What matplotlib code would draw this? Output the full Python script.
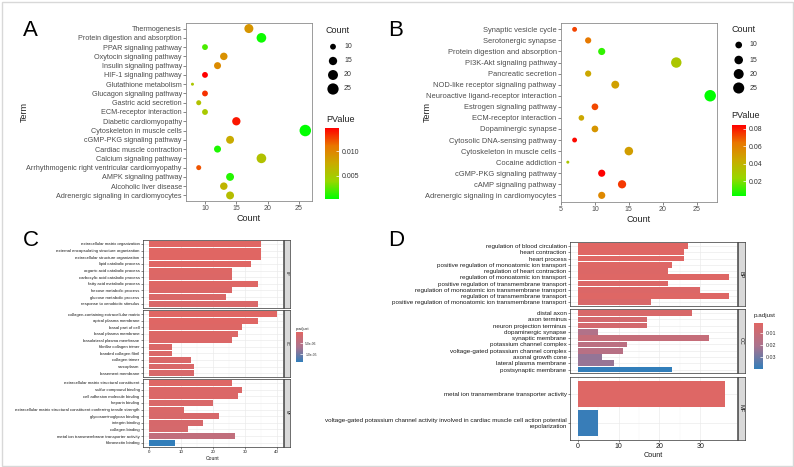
import numpy as np
import matplotlib
matplotlib.use("Agg")
import matplotlib.pyplot as plt
from matplotlib.colors import LinearSegmentedColormap, Normalize
from matplotlib.cm import ScalarMappable
from matplotlib.patches import Rectangle

plt.rcParams['font.family'] = ['Liberation Sans', 'DejaVu Sans']

W, H = 794, 467

# ---- panel A: KEGG dot plot
a_terms = ["Thermogenesis", "Protein digestion and absorption", "PPAR signaling pathway",
           "Oxytocin signaling pathway", "Insulin signaling pathway", "HIF-1 signaling pathway",
           "Glutathione metabolism", "Glucagon signaling pathway", "Gastric acid secretion",
           "ECM-receptor interaction", "Diabetic cardiomyopathy", "Cytoskeleton in muscle cells",
           "cGMP-PKG signaling pathway", "Cardiac muscle contraction", "Calcium signaling pathway",
           "Arrhythmogenic right ventricular cardiomyopathy", "AMPK signaling pathway",
           "Alcoholic liver disease", "Adrenergic signaling in cardiomyocytes"]
a_count = [17, 19, 10, 13, 12, 10, 8, 10, 9, 10, 15, 26, 14, 12, 19, 9, 14, 13, 14]
a_pval = [0.0090, 0.0005, 0.0020, 0.0093, 0.0097, 0.0148, 0.0053, 0.0133, 0.0057, 0.0050,
          0.0141, 0.0002, 0.0075, 0.0009, 0.0057, 0.0122, 0.0011, 0.0068, 0.0060]

# ---- panel B: KEGG dot plot
b_terms = ["Synaptic vesicle cycle", "Serotonergic synapse", "Protein digestion and absorption",
           "PI3K-Akt signaling pathway", "Pancreatic secretion", "NOD-like receptor signaling pathway",
           "Neuroactive ligand-receptor interaction", "Estrogen signaling pathway",
           "ECM-receptor interaction", "Dopaminergic synapse", "Cytosolic DNA-sensing pathway",
           "Cytoskeleton in muscle cells", "Cocaine addiction", "cGMP-PKG signaling pathway",
           "cAMP signaling pathway", "Adrenergic signaling in cardiomyocytes"]
b_count = [7, 9, 11, 22, 9, 13, 27, 10, 8, 10, 7, 15, 6, 11, 14, 11]
b_pval = [0.073, 0.063, 0.0093, 0.031, 0.045, 0.048, 0.0027, 0.072, 0.045, 0.052,
          0.083, 0.049, 0.031, 0.0846, 0.075, 0.057]

# ---- panel C: GO bar plot
c_groups = ["BP", "CC", "MF"]
c_terms = [
    ["extracellular matrix organization", "external encapsulating structure organization",
     "extracellular structure organization", "lipid catabolic process",
     "organic acid catabolic process", "carboxylic acid catabolic process",
     "fatty acid metabolic process", "hexose metabolic process",
     "glucose metabolic process", "response to xenobiotic stimulus"],
    ["collagen-containing extracellular matrix", "apical plasma membrane", "basal part of cell",
     "basal plasma membrane", "basolateral plasma membrane", "fibrillar collagen trimer",
     "banded collagen fibril", "collagen trimer", "sarcoplasm", "basement membrane"],
    ["extracellular matrix structural constituent", "sulfur compound binding",
     "cell adhesion molecule binding", "heparin binding",
     "extracellular matrix structural constituent conferring tensile strength",
     "glycosaminoglycan binding", "integrin binding", "collagen binding",
     "metal ion transmembrane transporter activity", "fibronectin binding"],
]
c_count = [[35, 35, 35, 32, 26, 26, 34, 26, 24, 34],
           [40, 34, 29, 28, 26, 7, 7, 13, 14, 14],
           [26, 29, 28, 20, 11, 22, 17, 12, 27, 8]]
c_padj = [[2e-9, 5e-9, 8e-9, 2e-7, 4e-7, 5e-7, 3e-7, 6e-7, 8e-7, 9e-7],
          [1e-8, 2e-7, 4e-7, 5e-7, 6e-7, 7e-7, 8e-7, 9e-7, 1e-6, 1.1e-6],
          [3e-7, 6e-7, 7e-7, 9e-7, 1e-6, 1.2e-6, 1.3e-6, 1.4e-6, 4e-6, 1.35e-5]]

# ---- panel D: GO bar plot
d_groups = ["BP", "CC", "MF"]
d_terms = [
    ["regulation of blood circulation", "heart contraction", "heart process",
     "positive regulation of monoatomic ion transport", "regulation of heart contraction",
     "regulation of monoatomic ion transport", "positive regulation of transmembrane transport",
     "regulation of monoatomic ion transmembrane transport",
     "regulation of transmembrane transport",
     "positive regulation of monoatomic ion transmembrane transport"],
    ["distal axon", "axon terminus", "neuron projection terminus", "dopaminergic synapse",
     "synaptic membrane", "potassium channel complex", "voltage-gated potassium channel complex",
     "axonal growth cone", "lateral plasma membrane", "postsynaptic membrane"],
    ["metal ion transmembrane transporter activity",
     "voltage-gated potassium channel activity involved in cardiac muscle cell action potential\nrepolarization"],
]
d_count = [[27, 26, 26, 23, 22, 37, 22, 30, 37, 18],
           [28, 17, 17, 5, 32, 12, 11, 6, 9, 23],
           [36, 5]]
d_padj = [[0.001, 0.0015, 0.0016, 0.002, 0.0025, 0.002, 0.003, 0.003, 0.002, 0.004],
          [0.004, 0.006, 0.006, 0.0185, 0.011, 0.0147, 0.016, 0.0244, 0.0236, 0.040],
          [0.002, 0.039]]

cmap_gr = LinearSegmentedColormap.from_list(
    "gr", ["#00ff00", "#98d700", "#c9ab00", "#e97600", "#ff0000"])
cmap_rb = LinearSegmentedColormap.from_list("rb", ["#e06663", "#ab738e", "#327eba"])


def box(l, t, r, b):
    return [l / W, 1 - b / H, (r - l) / W, (b - t) / H]


def dot_size(c, cmin, cmax):
    px = 3 + 8.5 * np.sqrt((np.asarray(c, float) - cmin) / (cmax - cmin))
    return (px * 0.72) ** 2


fig = plt.figure(figsize=(W / 100, H / 100), dpi=100)


def dot_panel(rect, terms, counts, pvals, xlim, xticks, fs):
    ax = fig.add_axes(box(*rect))
    n = len(terms)
    y = np.arange(n, 0, -1)
    norm = Normalize(min(pvals), max(pvals))
    ax.scatter(counts, y, s=dot_size(counts, min(counts), max(counts)), c=pvals,
               cmap=cmap_gr, norm=norm, linewidths=0, zorder=3)
    ax.set_xlim(*xlim)
    ax.set_ylim(0.4, n + 0.6)
    ax.set_yticks(y, terms)
    ax.set_xticks(xticks)
    ax.tick_params(labelsize=fs, length=2, width=0.5, color='#555555',
                   labelcolor='#4d4d4d', pad=1)
    ax.tick_params(axis='x', labelsize=5)
    for sp in ax.spines.values():
        sp.set_color('#8c8c8c')
        sp.set_linewidth(0.6)
    ax.set_xlabel("Count", fontsize=6.5, labelpad=1.5, color='#222222')
    return norm


def bar_panel(l, r, rows, strip, groups, terms, counts, padj, xlim, xticks, norm, fs, tfs):
    for k, (t, b) in enumerate(rows):
        ax = fig.add_axes(box(l, t, r, b))
        n = len(terms[k])
        y = np.arange(n, 0, -1)
        ax.barh(y, counts[k], height=0.9, color=cmap_rb(norm(np.array(padj[k]))),
                edgecolor='none', zorder=3)
        ax.set_xlim(*xlim)
        ax.set_ylim(0.4, n + 0.6)
        ax.set_yticks(y, terms[k])
        ax.set_xticks(xticks)
        ax.set_xticks(np.array(xticks[:-1]) + (xticks[1] - xticks[0]) / 2, minor=True)
        ax.grid(True, which='major', color='#ebebeb', lw=0.5, zorder=0)
        ax.grid(True, which='minor', axis='x', color='#f2f2f2', lw=0.3, zorder=0)
        ax.tick_params(which='minor', length=0)
        ax.tick_params(labelsize=fs, length=1.5, width=0.4, color='#333333',
                       labelcolor='#1a1a1a', pad=1)
        if k < len(rows) - 1:
            ax.tick_params(axis='x', labelbottom=False, length=0)
        else:
            ax.tick_params(axis='x', labelsize=tfs)
        for sp in ax.spines.values():
            sp.set_color('#333333')
            sp.set_linewidth(0.5)
        sx = fig.add_axes(box(strip[0], t, strip[1], b))
        sx.set_facecolor('#d9d9d9')
        sx.set_xticks([])
        sx.set_yticks([])
        for sp in sx.spines.values():
            sp.set_color('#333333')
            sp.set_linewidth(0.5)
        sx.text(0.5, 0.5, groups[k], rotation=-90, ha='center', va='center',
                fontsize=tfs * 0.8, color='#1a1a1a', transform=sx.transAxes)
    return ax


def colorbar(rect, norm, cmap, ticks, labels, fs, reverse=False):
    cax = fig.add_axes(box(*rect))
    cb = fig.colorbar(ScalarMappable(norm=norm, cmap=cmap), cax=cax)
    cb.outline.set_visible(False)
    cb.set_ticks(ticks, labels=labels)
    cax.tick_params(labelsize=fs, length=2, width=0.5, color='white', direction='in',
                    labelcolor='#333333', pad=2)
    if reverse:
        cax.invert_yaxis()


# panels A and B
norm_a = dot_panel((186, 23, 312, 201), a_terms, a_count, a_pval, (6.97, 27.07),
                   [10, 15, 20, 25], 5.25)
norm_b = dot_panel((560.7, 22.7, 717.3, 202), b_terms, b_count, b_pval, (4.95, 28.05),
                   [5, 10, 15, 20, 25], 5.4)
colorbar((325, 128, 339, 199), norm_a, cmap_gr, [0.005, 0.010], ["0.005", "0.010"], 5)
colorbar((731.7, 125, 745.7, 196), norm_b, cmap_gr, [0.02, 0.04, 0.06, 0.08],
         ["0.02", "0.04", "0.06", "0.08"], 5)

# panels C and D
c_all = np.concatenate([np.array(v) for v in c_padj])
norm_c = Normalize(c_all.min(), c_all.max())
axc = bar_panel(143, 283, [(240, 307.7), (310.3, 377), (379, 446.7)], (284, 290),
                c_groups, c_terms, c_count, c_padj, (-2, 42), [0, 10, 20, 30, 40],
                norm_c, 3.05, 3.2)
axc.set_xlabel("Count", fontsize=3.6, labelpad=1, color='#1a1a1a')
colorbar((296, 332, 302.5, 362), norm_c, cmap_rb, [5e-6, 1e-5], ["5.0e-06", "1.0e-05"],
         2.4, reverse=True)

d_all = np.concatenate([np.array(v) for v in d_padj])
norm_d = Normalize(d_all.min(), d_all.max())
axd = bar_panel(570, 736.7, [(242.3, 306), (309.3, 373.3), (376.7, 440)], (737.5, 745),
                d_groups, d_terms, d_count, d_padj, (-1.85, 38.85), [0, 10, 20, 30],
                norm_d, 4.5, 5)
axd.set_xlabel("Count", fontsize=5.2, labelpad=1, color='#1a1a1a')
colorbar((754, 322.7, 763.3, 369), norm_d, cmap_rb, [0.01, 0.02, 0.03],
         ["0.01", "0.02", "0.03"], 3.8, reverse=True)

# overlay for letters, legends, frame
ov = fig.add_axes([0, 0, 1, 1])
ov.set_xlim(0, W)
ov.set_ylim(H, 0)
ov.axis('off')
ov.add_patch(Rectangle((1.5, 1.5), W - 3, H - 3, fill=False, ec='#d8d8d8', lw=1))

for letter, x, y in [("A", 23, 30), ("B", 388, 30), ("C", 23, 240), ("D", 388, 240)]:
    ov.text(x, y, letter, fontsize=16, ha='left', va='center', color='black')

ov.text(24, 112, "Term", rotation=90, fontsize=6.5, ha='center', va='center', color='#222222')
ov.text(427, 112, "Term", rotation=90, fontsize=6.5, ha='center', va='center', color='#222222')

legend_counts = [10, 15, 20, 25]
for x0, ys, counts in [(326, [46.7, 61, 75, 89], a_count), (731.7, [45, 60, 74, 88], b_count)]:
    ov.text(x0, ys[0] - 16, "Count", fontsize=6.5, ha='left', va='center', color='#222222')
    ov.scatter([x0 + 7] * 4, ys, s=dot_size(legend_counts, min(counts), max(counts)),
               color='black', linewidths=0)
    for v, yy in zip(legend_counts, ys):
        ov.text(x0 + 18, yy, str(v), fontsize=5, ha='left', va='center', color='#333333')
ov.text(326, 120, "PValue", fontsize=6.5, ha='left', va='center', color='#222222')
ov.text(731.7, 116, "PValue", fontsize=6.5, ha='left', va='center', color='#222222')
ov.text(296, 329, "p.adjust", fontsize=2.8, ha='left', va='center', color='#222222')
ov.text(754, 316, "p.adjust", fontsize=4.5, ha='left', va='center', color='#222222')

fig.savefig("out.png", dpi=100)
